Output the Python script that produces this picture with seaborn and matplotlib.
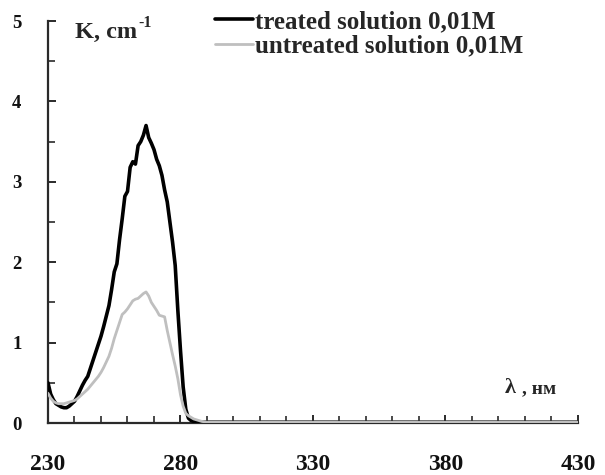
import numpy as np
import pandas as pd
import matplotlib
matplotlib.use("Agg")
import matplotlib.pyplot as plt
import seaborn as sns
from matplotlib.ticker import MultipleLocator
from matplotlib.lines import Line2D

wavelength = [230, 231, 232, 233, 234, 235, 236, 237, 238, 239,
              240, 241, 242, 243, 244, 245, 246, 247, 248, 249,
              250, 251, 252, 253, 254, 255, 256, 257, 258, 259,
              260, 261, 262, 263, 264, 265, 266, 267, 268, 269,
              270, 271, 272, 273, 274, 275, 276, 277, 278, 279,
              280, 281, 282, 283, 284, 285, 286, 287, 288, 290,
              300, 330, 380, 430]
treated = [0.50, 0.36, 0.29, 0.24, 0.22, 0.20, 0.19, 0.19, 0.21, 0.24,
           0.27, 0.33, 0.40, 0.47, 0.53, 0.58, 0.68, 0.78, 0.88, 0.98,
           1.08, 1.20, 1.33, 1.46, 1.66, 1.88, 1.98, 2.28, 2.54, 2.82,
           2.88, 3.18, 3.25, 3.22, 3.45, 3.50, 3.58, 3.70, 3.55, 3.48,
           3.40, 3.28, 3.20, 3.08, 2.90, 2.75, 2.50, 2.25, 1.96, 1.40,
           0.90, 0.45, 0.17, 0.06, 0.03, 0.02, 0.01, 0.01, 0.01, 0.01,
           0.01, 0.01, 0.01, 0.01]
untreated = [0.37, 0.31, 0.27, 0.25, 0.24, 0.24, 0.24, 0.25, 0.26, 0.27,
             0.28, 0.30, 0.33, 0.36, 0.39, 0.42, 0.46, 0.50, 0.54, 0.58,
             0.63, 0.69, 0.76, 0.83, 0.93, 1.05, 1.15, 1.25, 1.35, 1.38,
             1.42, 1.47, 1.52, 1.54, 1.55, 1.58, 1.61, 1.63, 1.58, 1.50,
             1.45, 1.40, 1.34, 1.33, 1.32, 1.15, 1.00, 0.85, 0.71, 0.55,
             0.35, 0.21, 0.12, 0.09, 0.07, 0.05, 0.04, 0.03, 0.02, 0.01,
             0.01, 0.01, 0.01, 0.01]
series_names = ["treated solution 0,01M", "untreated solution 0,01M"]
x_ticks = [230, 280, 330, 380, 430]
y_ticks = [0, 1, 2, 3, 4, 5]

BLACK = "#000000"
GREY = "#bfbfbf"

sns.set_theme(style="white")
plt.rcParams['font.family'] = ['Liberation Serif', 'DejaVu Serif']
plt.rcParams['font.weight'] = 'bold'

df = pd.DataFrame({
    "wl": wavelength * 2,
    "K": treated + untreated,
    "series": [series_names[0]] * len(wavelength) + [series_names[1]] * len(wavelength),
})

fig = plt.figure(figsize=(6.05, 4.75), dpi=100)
ax = fig.add_axes([48 / 605, 52 / 475, 530 / 605, 402 / 475])

sns.lineplot(data=df, x="wl", y="K", hue="series", size="series",
             palette={series_names[0]: BLACK, series_names[1]: GREY},
             sizes={series_names[0]: 2.6, series_names[1]: 2.0},
             ax=ax, legend=False, zorder=3)

ax.set_xlim(230, 430)
ax.set_ylim(0, 5)
ax.set_xticks(x_ticks)
ax.set_yticks(y_ticks)
ax.xaxis.set_minor_locator(MultipleLocator(10))
ax.yaxis.set_minor_locator(MultipleLocator(0.5))
ax.set_xlabel("")
ax.set_ylabel("")

for s in ["top", "right"]:
    ax.spines[s].set_visible(False)
for s in ["left", "bottom"]:
    ax.spines[s].set_color("#2a2a2a")
    ax.spines[s].set_linewidth(1.6)

ax.tick_params(axis="both", which="both", direction="in", color="#2a2a2a",
               left=True, bottom=True, labelcolor="#111111")
ax.tick_params(axis="both", which="major", length=6, width=1.4)
ax.tick_params(axis="both", which="minor", length=5, width=1.2)
ax.tick_params(axis="x", which="major", pad=22, labelsize=17)
ax.tick_params(axis="y", which="major", pad=19, labelsize=13.5)
for lab in ax.get_xticklabels() + ax.get_yticklabels():
    lab.set_fontweight("bold")

handles = [Line2D([], [], color=BLACK, lw=2.6),
           Line2D([], [], color=GREY, lw=2.0)]
fig.legend(handles, series_names, loc="upper left",
           bbox_to_anchor=(215 / 605, 1 - 10 / 475),
           frameon=False, handlelength=1.5, handletextpad=0.1, labelspacing=0.06,
           borderpad=0, borderaxespad=0,
           prop={"family": "Liberation Serif", "weight": "bold", "size": 18})

k_txt = fig.text(75 / 605, 1 - 38 / 475, "K, cm", fontsize=17.5,
                 fontweight="bold", va="baseline", ha="left")
fig.canvas.draw()
bb = k_txt.get_window_extent()
fig.text((bb.x1 + 1) / 605, 1 - 27 / 475, "-1", fontsize=11.5,
         fontweight="bold", va="baseline", ha="left")

fig.text(505 / 605, 1 - 393 / 475, "λ", fontsize=16, fontweight="bold",
         va="baseline", ha="left")
fig.text(522 / 605, 1 - 393 / 475, ", нм", fontsize=14, fontweight="bold",
         va="baseline", ha="left")

fig.savefig("out.png", dpi=100)
